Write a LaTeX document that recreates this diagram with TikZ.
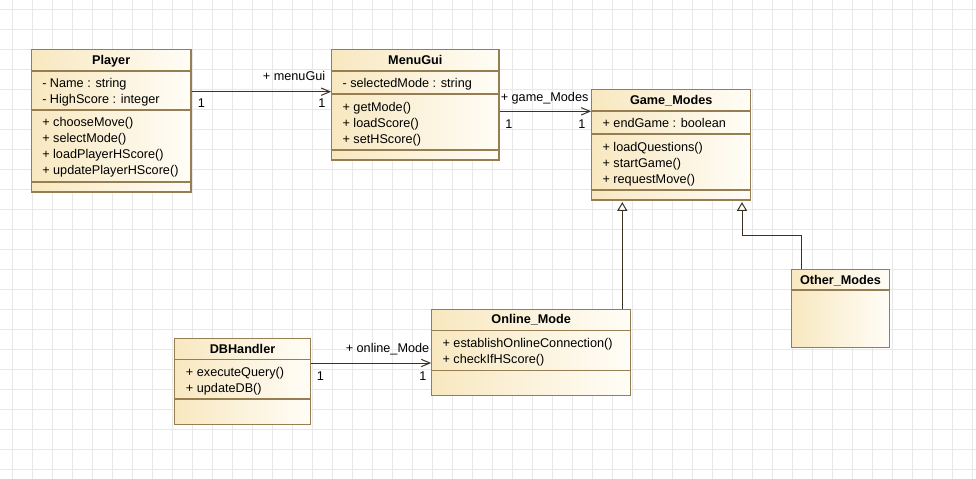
\documentclass[tikz,border=0pt]{standalone}
\usepackage{fontspec}
\setmainfont{Liberation Sans}
\usetikzlibrary{fit,arrows.meta}

\definecolor{gridcol}{RGB}{232,232,232}
\definecolor{boxline}{RGB}{150,126,82}
\definecolor{fillL}{RGB}{248,232,192}
\definecolor{fillR}{RGB}{255,253,247}
\definecolor{wire}{RGB}{60,50,36}

\tikzset{
  gridline/.style={draw=gridcol, line width=0.6pt},
  classbox/.style={draw=boxline, line width=0.8pt, inner sep=0pt,
                   left color=fillL, right color=fillR, shading angle=90},
  sepline/.style={draw=boxline, line width=0.8pt},
  txt/.style={font=\fontsize{9.5}{10}\selectfont, inner sep=0pt,
              text height=7pt, text depth=0.5pt},
  ctitle/.style={txt, font=\fontsize{9.5}{10}\selectfont\bfseries},
  member/.style={txt, anchor=west},
  lbl/.style={txt},
  assoc/.style={draw=wire, line width=0.75pt,
                -{Straight Barb[length=6.5pt,width=5.5pt,line width=0.75pt]}},
  gen/.style={draw=wire, line width=0.75pt, shorten >=1.2pt,
              -{Triangle[open,length=6.5pt,width=7.5pt,fill=white,line width=0.75pt]}},
}

\begin{document}
\begin{tikzpicture}[x=0.75pt,y=-0.75pt]
\useasboundingbox (0,0) rectangle (976,479);
\fill[white] (0,0) rectangle (976,479);

% background grid
\foreach \gx in {12,32,...,972} \draw[gridline] (\gx,0) -- (\gx,479);
\foreach \gy in {9,29,...,469} \draw[gridline] (0,\gy) -- (976,\gy);

% ---------- Player ----------
\node[classbox, fit={(31.5,49.7) (191,192)}] (player) {};
\draw[sepline] (31.5,71) -- (191,71);
\draw[sepline] (31.5,110) -- (191,110);
\draw[sepline] (31.5,182) -- (191,182);
\node[ctitle] (playerT) at (111.2,60) {Player};
\node[member] (p1) at (42,82.7) {- Name : string};
\node[member] (p2) at (42,98.7) {- HighScore : integer};
\node[member] (p3) at (42,122) {+ chooseMove()};
\node[member] (p4) at (42,138) {+ selectMode()};
\node[member] (p5) at (42,154) {+ loadPlayerHScore()};
\node[member] (p6) at (42,170) {+ updatePlayerHScore()};

% ---------- MenuGui ----------
\node[classbox, fit={(331.7,49.7) (499,160)}] (menu) {};
\draw[sepline] (331.7,71) -- (499,71);
\draw[sepline] (331.7,94) -- (499,94);
\draw[sepline] (331.7,150) -- (499,150);
\node[ctitle] (menuT) at (415.3,60) {MenuGui};
\node[member] (m1) at (342.3,82.7) {- selectedMode : string};
\node[member] (m2) at (342.3,106.7) {+ getMode()};
\node[member] (m3) at (342.3,122.7) {+ loadScore()};
\node[member] (m4) at (342.3,138.7) {+ setHScore()};

% ---------- Game_Modes ----------
\node[classbox, fit={(591.7,89.7) (750.7,200)}] (gmodes) {};
\draw[sepline] (591.7,111) -- (750.7,111);
\draw[sepline] (591.7,134) -- (750.7,134);
\draw[sepline] (591.7,190) -- (750.7,190);
\node[ctitle] (gmodesT) at (671.2,100) {Game\_Modes};
\node[member] (g1) at (602.3,122.7) {+ endGame : boolean};
\node[member] (g2) at (602.3,146.7) {+ loadQuestions()};
\node[member] (g3) at (602.3,162.7) {+ startGame()};
\node[member] (g4) at (602.3,178.7) {+ requestMove()};

% ---------- DBHandler ----------
\node[classbox, fit={(174.3,338.3) (310.7,424.3)}] (db) {};
\draw[sepline] (174.3,359.3) -- (310.7,359.3);
\draw[sepline] (174.3,399) -- (310.7,399);
\node[ctitle] (dbT) at (242.5,349) {DBHandler};
\node[member] (d1) at (185.7,371.7) {+ executeQuery()};
\node[member] (d2) at (185.7,387.7) {+ updateDB()};

% ---------- Online_Mode ----------
\node[classbox, fit={(431.7,309.3) (630.7,395.3)}] (online) {};
\draw[sepline] (431.7,330.3) -- (630.7,330.3);
\draw[sepline] (431.7,370.3) -- (630.7,370.3);
\node[ctitle] (onlineT) at (531.2,319.3) {Online\_Mode};
\node[member] (o1) at (442.3,342.7) {+ establishOnlineConnection()};
\node[member] (o2) at (442.3,358.7) {+ checkIfHScore()};

% ---------- Other_Modes ----------
\node[classbox, fit={(791.7,269.3) (889.3,347.3)}] (other) {};
\draw[sepline] (791.7,290) -- (889.3,290);
\node[ctitle] (otherT) at (840.5,280) {Other\_Modes};

% ---------- associations ----------
\coordinate (rowA) at (0,91.7);
\coordinate (rowB) at (0,111.3);
\coordinate (rowC) at (0,363);
\draw[assoc] (player.east |- rowA) -- (menu.west |- rowA);
\draw[assoc] (menu.east |- rowB) -- (gmodes.west |- rowB);
\draw[assoc] (db.east |- rowC) -- (online.west |- rowC);

\node[lbl, anchor=east] (la1) at (325.5,75.7) {+ menuGui};
\node[lbl] (la2) at (201.5,103.3) {1};
\node[lbl] (la3) at (322,103.3) {1};

\node[lbl, anchor=west] (lb1) at (500.5,96.7) {+ game\_Modes};
\node[lbl] (lb2) at (509,124.5) {1};
\node[lbl] (lb3) at (582,124.5) {1};

\node[lbl, anchor=west] (lc1) at (345.5,347.7) {+ online\_Mode};
\node[lbl] (lc2) at (320.5,376) {1};
\node[lbl] (lc3) at (423,376) {1};

% ---------- generalizations ----------
\coordinate (colOnline) at (622.3,0);
\coordinate (colOther) at (742,0);
\coordinate (elbowA) at (801.3,235.3);
\coordinate (elbowB) at (742,235.3);
\draw[gen] (online.north -| colOnline) -- (gmodes.south -| colOnline);
\draw[gen] (other.north -| elbowA) -- (elbowA) -- (elbowB) -- (gmodes.south -| colOther);

\end{tikzpicture}
\end{document}
